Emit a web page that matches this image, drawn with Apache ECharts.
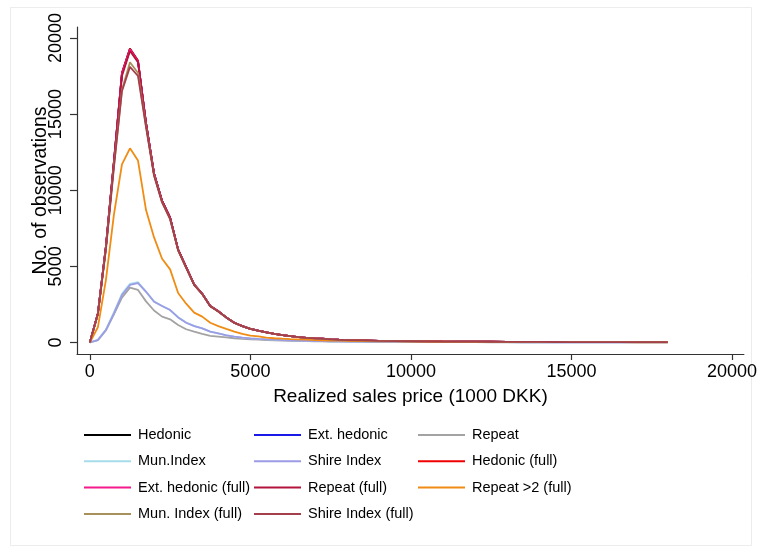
<!DOCTYPE html>
<html>
<head>
<meta charset="utf-8">
<script src="https://cdn.jsdelivr.net/npm/echarts@6/dist/echarts.min.js"></script>
<style>
  html, body { margin: 0; padding: 0; background: #fff; }
  #chart { width: 760px; height: 552px; }
</style>
</head>
<body>
<div id="chart"></div>
<script>
// Price bins (1000 DKK)
const priceBins = [0,250,500,750,1000,1250,1500,1750,2000,2250,2500,2750,3000,3250,3500,3750,4000,4250,4500,4750,5000,5250,5500,5750,6000,6250,6500,6750,7000,7250,7500,7750,8000,8500,9000,9500,10000,10500,11000,11500,12000,12500,13000,13500,14000,14500,15000,15500,16000,16500,17000,17500,18000];

// Number of observations per bin, by index
const hedonic        = [0,1900,6300,11900,17700,19300,18500,14400,11100,9300,8200,6100,4950,3800,3200,2400,2050,1650,1300,1080,900,780,670,570,490,420,360,310,275,250,210,185,165,145,110,95,85,75,65,60,55,50,45,40,38,35,32,30,28,26,25,24,22];
const extHedonic     = [0,1900,6300,11850,17650,19250,18450,14400,11100,9300,8200,6100,4950,3800,3200,2400,2050,1650,1300,1080,900,780,670,570,490,420,360,310,275,250,210,185,165,145,110,95,85,75,65,60,55,50,45,40,38,35,32,30,28,26,25,24,22];
const repeat         = [0,150,800,1850,2950,3600,3450,2700,2100,1700,1520,1150,870,710,560,430,380,330,280,240,210,185,165,145,130,115,100,90,80,72,65,58,52,45,38,33,29,26,23,21,19,17,15,14,13,12,11,10,9,8,8,7,7];
const munIndex       = [0,180,850,1980,3200,3850,3960,3350,2700,2400,2140,1660,1310,1090,930,720,600,480,390,320,275,240,210,185,160,140,125,110,98,88,80,72,65,56,48,42,37,33,29,26,23,21,19,17,16,15,14,13,12,11,10,10,9];
const shireIndex     = [0,160,820,1920,3120,3780,3900,3330,2680,2400,2130,1650,1300,1080,930,710,600,470,385,317,274,240,210,185,160,140,125,110,98,88,80,72,65,56,48,42,37,33,29,26,23,21,19,17,16,15,14,13,12,11,10,10,9];
const hedonicFull    = [0,1900,6300,11900,17700,19300,18500,14400,11100,9300,8200,6100,4950,3800,3200,2400,2050,1650,1300,1080,900,780,670,570,490,420,360,310,275,250,210,185,165,145,110,95,85,75,65,60,55,50,45,40,38,35,32,30,28,26,25,24,22];
const extHedonicFull = [0,1900,6300,11850,17650,19250,18450,14400,11100,9300,8200,6100,4950,3800,3200,2400,2050,1650,1300,1080,900,780,670,570,490,420,360,310,275,250,210,185,165,145,110,95,85,75,65,60,55,50,45,40,38,35,32,30,28,26,25,24,22];
const repeatFull     = [0,1880,6250,11800,17500,19150,18400,14350,11050,9300,8200,6100,4950,3800,3200,2400,2050,1650,1300,1080,900,780,670,570,490,420,360,310,275,250,210,185,165,145,110,95,85,75,65,60,55,50,45,40,38,35,32,30,28,26,25,24,22];
const repeat2Full    = [0,1000,4100,8400,11700,12750,11950,8700,6900,5500,4800,3250,2550,1960,1700,1300,1080,890,710,560,450,400,320,280,250,225,205,185,160,145,130,120,110,95,80,70,60,55,50,45,40,36,33,30,28,26,24,22,20,19,18,17,16];
const munIndexFull   = [0,1850,6150,11600,16600,18400,17700,14200,11000,9200,8100,6050,4900,3780,3180,2380,2030,1640,1290,1070,890,770,660,565,485,415,355,305,270,245,205,180,160,140,108,93,83,73,64,58,53,48,44,39,37,34,31,29,27,25,24,23,21];
const shireIndexFull = [0,1850,6100,11500,16500,18100,17500,14150,10950,9200,8100,6050,4900,3780,3180,2380,2030,1640,1290,1070,890,770,660,565,485,415,355,305,270,245,205,180,160,140,108,93,83,73,64,58,53,48,44,39,37,34,31,29,27,25,24,23,21];

// Axis tick values
const xTicks = [0, 5000, 10000, 15000, 20000];
const yTicks = [0, 5000, 10000, 15000, 20000];

const seriesDefs = [
  ['Hedonic', hedonic, '#000000'],
  ['Ext. hedonic', extHedonic, '#1a1ae6'],
  ['Repeat', repeat, '#a3a3a3'],
  ['Mun.Index', munIndex, '#a6dcea'],
  ['Shire Index', shireIndex, '#9c9ce6'],
  ['Hedonic (full)', hedonicFull, '#f00000'],
  ['Ext. hedonic (full)', extHedonicFull, '#f51a8c'],
  ['Repeat (full)', repeatFull, '#b4143c'],
  ['Repeat >2 (full)', repeat2Full, '#f08c14'],
  ['Mun. Index (full)', munIndexFull, '#a8905a'],
  ['Shire Index (full)', shireIndexFull, '#a4404c']
];

const FONT = "'Liberation Sans', Arial, sans-serif";

const series = seriesDefs.map(([name, vals, color]) => ({
  name: name,
  type: 'line',
  data: priceBins.map((x, i) => [x, vals[i]]),
  symbol: 'none',
  color: color,
  lineStyle: { width: 1.8, color: color },
  emphasis: { disabled: true }
}));

function legendCol(names, left) {
  return {
    data: names,
    orient: 'vertical',
    left: left,
    top: 427,
    padding: 0,
    icon: 'rect',
    itemWidth: 47,
    itemHeight: 2,
    itemGap: 10.3,
    selectedMode: false,
    textStyle: { fontFamily: FONT, fontSize: 14.5, color: '#000', lineHeight: 16, padding: [0, 0, 0, 2] }
  };
}

const plain = v => String(v);

const chart = echarts.init(document.getElementById('chart'), null, { renderer: 'canvas' });
chart.setOption({
  animation: false,
  backgroundColor: '#fff',
  graphic: [{
    type: 'rect',
    shape: { x: 10.5, y: 7.5, width: 741, height: 538 },
    style: { fill: 'none', stroke: '#ececec', lineWidth: 1 },
    silent: true
  }],
  grid: { left: 77, top: 27, width: 669, height: 327, containLabel: false },
  legend: [
    legendCol(['Hedonic', 'Mun.Index', 'Ext. hedonic (full)', 'Mun. Index (full)'], 84),
    legendCol(['Ext. hedonic', 'Shire Index', 'Repeat (full)', 'Shire Index (full)'], 254),
    legendCol(['Repeat', 'Hedonic (full)', 'Repeat >2 (full)'], 418)
  ],
  xAxis: {
    type: 'value',
    min: -400,
    max: 20370,
    name: 'Realized sales price (1000 DKK)',
    nameLocation: 'middle',
    nameGap: 33,
    nameMoveOverlap: false,
    nameTextStyle: { fontFamily: FONT, fontSize: 19, color: '#000' },
    axisLine: { show: true, onZero: false, lineStyle: { color: '#333', width: 1.2 } },
    axisTick: { show: true, length: 6, customValues: xTicks, lineStyle: { color: '#333', width: 1.2 } },
    axisLabel: { customValues: xTicks, formatter: plain, margin: 9, fontFamily: FONT, fontSize: 18, color: '#000' },
    splitLine: { show: false }
  },
  yAxis: {
    type: 'value',
    min: -755,
    max: 20720,
    name: 'No. of observations',
    nameLocation: 'middle',
    nameGap: 26,
    nameMoveOverlap: false,
    nameRotate: 90,
    nameTextStyle: { fontFamily: FONT, fontSize: 19.5, color: '#000' },
    axisLine: { show: true, onZero: false, lineStyle: { color: '#333', width: 1.2 } },
    axisTick: { show: true, length: 7, customValues: yTicks, lineStyle: { color: '#333', width: 1.2 } },
    axisLabel: { customValues: yTicks, formatter: plain, rotate: 90, margin: 12, fontFamily: FONT, fontSize: 18, color: '#000' },
    splitLine: { show: false }
  },
  series: series
});
</script>
</body>
</html>
